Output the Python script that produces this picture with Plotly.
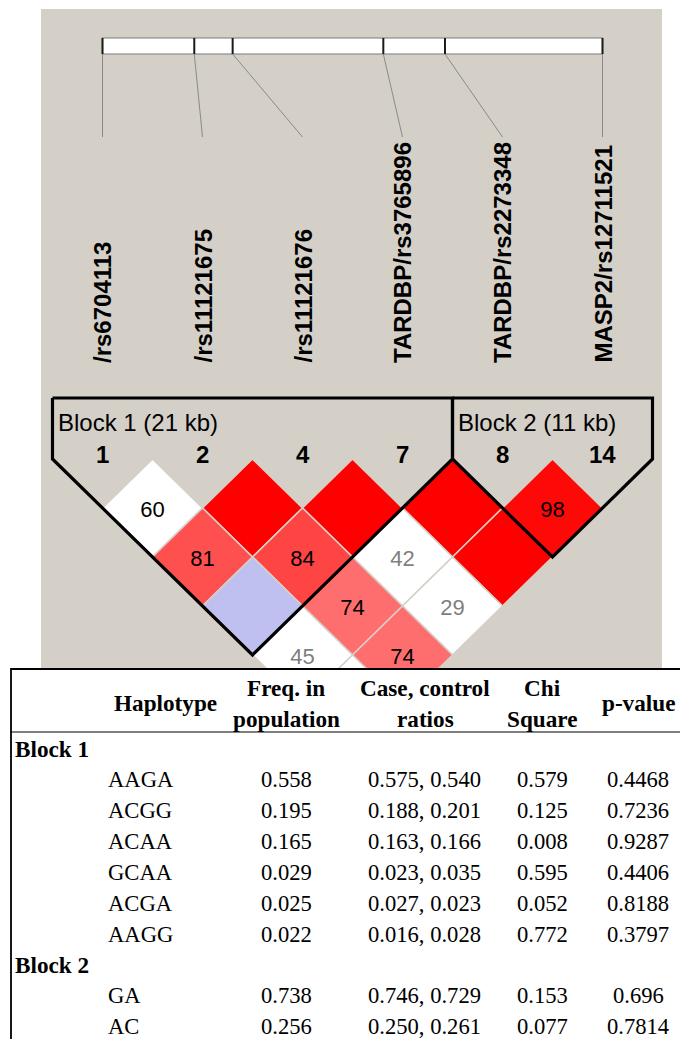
import numpy as np
import plotly.graph_objects as go

W, H = 680, 1039

# ---- markers -------------------------------------------------------------
marker_names = ["/rs6704113", "/rs11121675", "/rs11121676",
                "TARDBP/rs3765896", "TARDBP/rs2273348", "MASP2/rs12711521"]
marker_ids = ["1", "2", "4", "7", "8", "14"]
marker_pos_kb = [0.0, 6.7, 9.5, 20.5, 25.0, 36.5]

# ---- pairwise LD (D' x 100) ----------------------------------------------
pair_i = [0, 1, 2, 3, 4, 0, 1, 2, 3, 0, 1, 2, 0, 1, 0]
pair_j = [1, 2, 3, 4, 5, 2, 3, 4, 5, 3, 4, 5, 4, 5, 5]
dprime = [60, 100, 100, 100, 98, 81, 84, 42, 100, 100, 74, 29, 45, 74, 35]
lod_strong = [False, True, True, True, True, True, True, False, True,
              False, True, False, False, True, False]

# ---- haplotype blocks ----------------------------------------------------
block_labels = ["Block 1 (21 kb)", "Block 2 (11 kb)"]
block_first = [0, 4]
block_last = [3, 5]

# ---- haplotype association table -----------------------------------------
table_headers = ["Haplotype", "Freq. in<br>population", "Case, control<br>ratios",
                 "Chi<br>Square", "p-value"]
block_names = ["Block 1", "Block 2"]
hap_block = [0, 0, 0, 0, 0, 0, 1, 1]
haplotypes = ["AAGA", "ACGG", "ACAA", "GCAA", "ACGA", "AAGG", "GA", "AC"]
freq = [0.558, 0.195, 0.165, 0.029, 0.025, 0.022, 0.738, 0.256]
case_ratio = [0.575, 0.188, 0.163, 0.023, 0.027, 0.016, 0.746, 0.250]
control_ratio = [0.540, 0.201, 0.166, 0.035, 0.023, 0.028, 0.729, 0.261]
chi_sq = [0.579, 0.125, 0.008, 0.595, 0.052, 0.772, 0.153, 0.077]
p_value = [0.4468, 0.7236, 0.9287, 0.4406, 0.8188, 0.3797, 0.696, 0.7814]

# ---- layout constants ----------------------------------------------------
BG = "#d4d0c8"
SANS = "Liberation Sans, Arial, sans-serif"
SERIF = "Liberation Serif, Times New Roman, serif"
X0, STEP = 102.5, 100.0          # marker spacing in the LD triangle
HALF_W, HALF_H = 50.0, 49.0      # diamond half-diagonals
ROW1_Y = 508.0                   # centre of the first diamond row
BAR_Y0, BAR_Y1 = 38.0, 54.0
LABEL_TOP, LABEL_BASE = 137.0, 363.0
BLOCK_TOP = 398.0
TABLE_TOP = 669.0
BODY_SIZE, HEAD_SIZE = 22.6, 23.2

n = len(marker_names)
mx = [X0 + STEP * k for k in range(n)]
span = marker_pos_kb[-1] - marker_pos_kb[0]
bar_x = [mx[0] + (mx[-1] - mx[0]) * (p - marker_pos_kb[0]) / span for p in marker_pos_kb]

fig = go.Figure()
shapes = []
annotations = []


def note(x, y, text, size, family=SANS, color="black", xanchor="center",
         bold=False, **kw):
    annotations.append(dict(
        x=x, y=y, text=f"<b>{text}</b>" if bold else text, xanchor=xanchor,
        yanchor=kw.pop("yanchor", "middle"), showarrow=False, borderpad=0,
        borderwidth=0, font=dict(family=family, size=size, color=color), **kw))


# panel background
shapes.append(dict(type="rect", x0=41, x1=662, y0=9, y1=TABLE_TOP, fillcolor=BG,
                   line=dict(width=0), layer="below"))

# chromosome bar with marker ticks and connectors
shapes.append(dict(type="rect", x0=bar_x[0], x1=bar_x[-1], y0=BAR_Y0, y1=BAR_Y1,
                   fillcolor="white", line=dict(color="#7a7a7a", width=1.2), layer="below"))
for k in range(n):
    shapes.append(dict(type="line", x0=bar_x[k], x1=bar_x[k], y0=BAR_Y0, y1=BAR_Y1,
                       line=dict(color="#1a1a1a", width=2), layer="below"))
    shapes.append(dict(type="line", x0=bar_x[k], x1=mx[k], y0=BAR_Y1, y1=LABEL_TOP,
                       line=dict(color="#8a8a8a", width=1), layer="below"))
    note(mx[k], LABEL_BASE, marker_names[k], 24, bold=True, textangle=-90,
         yanchor="bottom")
    note(mx[k], 454, marker_ids[k], 24, bold=True)


def cell_color(d, strong):
    if strong:
        g = int(np.clip(255 - 425 * (d / 100 - 0.4), 0, 255))
        return f"rgb(255,{g},{g})"
    return "rgb(192,192,240)" if d >= 100 else "white"


# LD diamonds
txt_x, txt_y, txt_s, txt_c = [], [], [], []
for i, j, d, s in zip(pair_i, pair_j, dprime, lod_strong):
    cx = (mx[i] + mx[j]) / 2
    cy = ROW1_Y + HALF_H * (j - i - 1)
    fig.add_trace(go.Scatter(
        x=[cx - HALF_W, cx, cx + HALF_W, cx, cx - HALF_W],
        y=[cy, cy - HALF_H, cy, cy + HALF_H, cy],
        mode="lines", fill="toself", fillcolor=cell_color(d, s),
        line=dict(color=BG, width=1.6), hoverinfo="skip", showlegend=False))
    if d < 100:
        txt_x.append(cx)
        txt_y.append(cy + 3)
        txt_s.append(str(d))
        txt_c.append("#7f7f7f" if d < 50 else "black")

fig.add_trace(go.Scatter(x=txt_x, y=txt_y, text=txt_s, mode="text",
                         textfont=dict(family=SANS, size=22, color=txt_c),
                         textposition="middle center", hoverinfo="skip", showlegend=False))

# block outlines
for b in range(len(block_labels)):
    a, z = block_first[b], block_last[b]
    left, right = mx[a] - HALF_W, mx[z] + HALF_W
    shoulder = ROW1_Y - HALF_H
    tip_y = shoulder + HALF_H * (z - a + 1)
    fig.add_trace(go.Scatter(
        x=[left, right, right, (left + right) / 2, left, left],
        y=[BLOCK_TOP, BLOCK_TOP, shoulder, tip_y, shoulder, BLOCK_TOP],
        mode="lines", line=dict(color="black", width=3.2), hoverinfo="skip",
        showlegend=False))
    note(left + 5, 422, block_labels[b], 24, xanchor="left")

# ---- table ---------------------------------------------------------------
shapes.append(dict(type="rect", x0=11, x1=W + 20, y0=TABLE_TOP, y1=H + 20,
                   fillcolor="white", line=dict(color="black", width=1.8), layer="above"))
shapes.append(dict(type="line", x0=11, x1=W + 20, y0=732, y1=732,
                   line=dict(color="black", width=1), layer="above"))

col_x = [165, 286, 425, 542, 638]
for t, cxp in zip(table_headers, col_x):
    lines = t.split("<br>")
    if len(lines) == 1:
        note(cxp, 703, lines[0], HEAD_SIZE, family=SERIF, bold=True)
    else:
        for ln, yy in zip(lines, [688, 718.5]):
            note(cxp, yy, ln, HEAD_SIZE, family=SERIF, bold=True)

ROW_H = 30.85
row_y = 749.0
for b, name in enumerate(block_names):
    note(15, row_y, name, HEAD_SIZE, family=SERIF, bold=True, xanchor="left")
    row_y += ROW_H
    for h in [k for k in range(len(haplotypes)) if hap_block[k] == b]:
        cells = [f"{freq[h]:.3f}", f"{case_ratio[h]:.3f}, {control_ratio[h]:.3f}",
                 f"{chi_sq[h]:.3f}", str(p_value[h])]
        note(108, row_y, haplotypes[h], BODY_SIZE, family=SERIF, xanchor="left")
        for c, cxp in zip(cells, col_x[1:]):
            note(cxp - 1 if cxp == 425 else cxp, row_y, c, BODY_SIZE, family=SERIF)
        row_y += ROW_H

fig.update_layout(
    width=W, height=H, margin=dict(l=0, r=0, t=0, b=0),
    paper_bgcolor="white", plot_bgcolor="white",
    xaxis=dict(range=[0, W], visible=False, fixedrange=True),
    yaxis=dict(range=[H, 0], visible=False, fixedrange=True),
    shapes=shapes, annotations=annotations, showlegend=False,
)

fig.write_html("out.html")
